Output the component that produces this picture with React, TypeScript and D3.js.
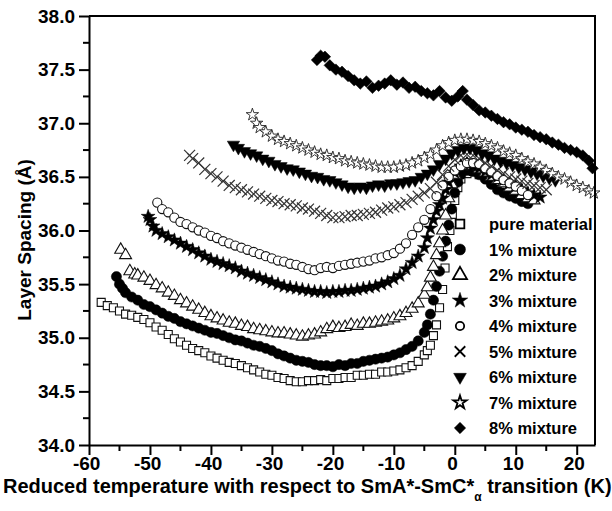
import { useRef, useEffect } from 'react';
import * as d3 from 'd3';

const W = 612;
const H = 511;
const MARGIN = { top: 16, right: 17, bottom: 66, left: 89 };

const xTicks = [-60, -50, -40, -30, -20, -10, 0, 10, 20];
const yTicks = [34.0, 34.5, 35.0, 35.5, 36.0, 36.5, 37.0, 37.5, 38.0];

// [reduced temperature (K), layer spacing (Å)]
const pure: [number, number][] = [
  [-58, 35.33], [-57, 35.3], [-56, 35.28], [-55, 35.25], [-54, 35.22], [-53, 35.21], [-52, 35.19], [-51, 35.17],
  [-50, 35.14], [-49, 35.1], [-48, 35.07], [-47, 35.03], [-46, 34.99], [-45, 34.96], [-44, 34.93], [-43, 34.9],
  [-42, 34.88], [-41, 34.86], [-40, 34.83], [-39, 34.81], [-38, 34.79], [-37, 34.77], [-36, 34.76], [-35, 34.74],
  [-34, 34.72], [-33, 34.7], [-32, 34.68], [-31, 34.66], [-30, 34.65], [-29, 34.63], [-28, 34.62], [-27, 34.6],
  [-26, 34.59], [-25, 34.59], [-24, 34.6], [-23, 34.6], [-22, 34.61], [-21, 34.6], [-20, 34.62], [-19, 34.62],
  [-18, 34.63], [-17, 34.63], [-16, 34.65], [-15, 34.65], [-14, 34.66], [-13, 34.66], [-12, 34.68], [-11, 34.68],
  [-10, 34.69], [-9, 34.7], [-8, 34.72], [-7, 34.74], [-6, 34.78], [-5, 34.84], [-4.5, 34.88], [-4, 34.93],
  [-3.5, 35.02], [-3, 35.12], [-2.5, 35.28], [-2, 35.45], [-1.6, 35.65], [-1.2, 35.85], [-0.8, 36.0], [-0.4, 36.15],
  [0, 36.28], [0.5, 36.4], [1, 36.48], [2, 36.53], [3, 36.55], [4, 36.52], [5, 36.5], [6, 36.46], [7, 36.43],
  [8, 36.4], [9, 36.37], [10, 36.34], [11, 36.31], [12, 36.28],
];

const mix1: [number, number][] = [
  [-55.5, 35.57], [-55, 35.5], [-54.5, 35.46], [-54, 35.42], [-53, 35.38], [-52, 35.35], [-51, 35.31], [-50, 35.29],
  [-49, 35.26], [-48, 35.23], [-47, 35.2], [-46, 35.18], [-45, 35.15], [-44, 35.13], [-43, 35.11], [-42, 35.09],
  [-41, 35.07], [-40, 35.05], [-39, 35.04], [-38, 35.02], [-37, 35.0], [-36, 34.98], [-35, 34.97], [-34, 34.95],
  [-33, 34.93], [-32, 34.92], [-31, 34.9], [-30, 34.88], [-29, 34.85], [-28, 34.83], [-27, 34.81], [-26, 34.79],
  [-25, 34.78], [-24, 34.77], [-23, 34.75], [-22, 34.74], [-21, 34.74], [-20, 34.73], [-19, 34.75], [-18, 34.74],
  [-17, 34.76], [-16, 34.76], [-15, 34.78], [-14, 34.79], [-13, 34.8], [-12, 34.81], [-11, 34.82], [-10, 34.84],
  [-9, 34.86], [-8, 34.89], [-7, 34.92], [-6, 34.97], [-5, 35.05], [-4.5, 35.12], [-4, 35.22], [-3.5, 35.35],
  [-3, 35.48], [-2.5, 35.62], [-2, 35.76], [-1.5, 35.9], [-1, 36.05], [-0.5, 36.2], [0, 36.35], [0.5, 36.45],
  [1, 36.52], [2, 36.56], [3, 36.55], [4, 36.52], [5, 36.48], [6, 36.43], [7, 36.38], [8, 36.35], [9, 36.32],
  [10, 36.3], [11, 36.27], [12, 36.25],
];

const mix2: [number, number][] = [
  [-54.8, 35.82], [-54, 35.77], [-53.3, 35.62], [-52.5, 35.59], [-52, 35.58], [-51, 35.56], [-50, 35.53], [-49, 35.49],
  [-48, 35.46], [-47, 35.42], [-46, 35.39], [-45, 35.35], [-44, 35.32], [-43, 35.29], [-42, 35.26], [-41, 35.23],
  [-40, 35.2], [-39, 35.18], [-38, 35.16], [-37, 35.14], [-36, 35.13], [-35, 35.11], [-34, 35.1], [-33, 35.08],
  [-32, 35.07], [-31, 35.06], [-30, 35.05], [-29, 35.04], [-28, 35.04], [-27, 35.03], [-26, 35.02], [-25, 35.01],
  [-24, 35.02], [-23, 35.03], [-22, 35.05], [-21, 35.08], [-20, 35.1], [-19, 35.09], [-18, 35.1], [-17, 35.12],
  [-16, 35.11], [-15, 35.13], [-14, 35.13], [-13, 35.14], [-12, 35.15], [-11, 35.16], [-10, 35.18], [-9, 35.2],
  [-8, 35.23], [-7, 35.27], [-6, 35.32], [-5, 35.4], [-4.5, 35.47], [-4, 35.56], [-3.5, 35.66], [-3, 35.77],
  [-2.5, 35.88], [-2, 36.0], [-1.5, 36.14], [-1, 36.3], [-0.5, 36.43], [0, 36.52], [1, 36.6], [2, 36.62],
  [3, 36.6], [4, 36.57], [5, 36.54], [6, 36.5], [7, 36.47], [8, 36.44], [9, 36.4], [10, 36.37], [11, 36.33],
  [12, 36.3], [13, 36.28],
];

const mix3: [number, number][] = [
  [-50.3, 36.13], [-50, 36.1], [-49.5, 36.04], [-49, 36.0], [-48, 35.97], [-47, 35.94], [-46, 35.91], [-45, 35.88],
  [-44, 35.85], [-43, 35.82], [-42, 35.79], [-41, 35.76], [-40, 35.73], [-39, 35.71], [-38, 35.69], [-37, 35.67],
  [-36, 35.65], [-35, 35.62], [-34, 35.6], [-33, 35.58], [-32, 35.56], [-31, 35.54], [-30, 35.52], [-29, 35.5],
  [-28, 35.48], [-27, 35.47], [-26, 35.46], [-25, 35.45], [-24, 35.44], [-23, 35.43], [-22, 35.43], [-21, 35.42],
  [-20, 35.43], [-19, 35.43], [-18, 35.44], [-17, 35.44], [-16, 35.45], [-15, 35.46], [-14, 35.47], [-13, 35.48],
  [-12, 35.5], [-11, 35.52], [-10, 35.55], [-9, 35.58], [-8, 35.64], [-7, 35.7], [-6, 35.76], [-5, 35.84],
  [-4.5, 35.93], [-4, 36.02], [-3.5, 36.1], [-3, 36.18], [-2.5, 36.24], [-2, 36.3], [-1.5, 36.38], [-1, 36.45],
  [0, 36.54], [1, 36.6], [2, 36.62], [3, 36.6], [4, 36.58], [5, 36.55], [6, 36.52], [7, 36.5], [8, 36.47],
  [9, 36.44], [10, 36.41], [11, 36.38], [12, 36.35], [13, 36.33], [14, 36.31],
];

const mix4: [number, number][] = [
  [-48.8, 36.26], [-48, 36.2], [-47, 36.17], [-46, 36.12], [-45, 36.08], [-44, 36.06], [-43, 36.03], [-42, 36.0],
  [-41, 35.98], [-40, 35.95], [-39, 35.93], [-38, 35.9], [-37, 35.88], [-36, 35.86], [-35, 35.84], [-34, 35.82],
  [-33, 35.8], [-32, 35.78], [-31, 35.76], [-30, 35.74], [-29, 35.72], [-28, 35.71], [-27, 35.69], [-26, 35.68],
  [-25, 35.66], [-24, 35.64], [-23, 35.63], [-22, 35.65], [-21, 35.66], [-20, 35.65], [-19, 35.67], [-18, 35.68],
  [-17, 35.69], [-16, 35.7], [-15, 35.71], [-14, 35.72], [-13, 35.74], [-12, 35.75], [-11, 35.77], [-10, 35.79],
  [-9, 35.83], [-8, 35.88], [-7, 35.96], [-6, 36.03], [-5, 36.1], [-4, 36.2], [-3, 36.32], [-2, 36.42],
  [-1, 36.5], [0, 36.56], [1, 36.6], [2, 36.63], [3, 36.63], [4, 36.62], [5, 36.58], [6, 36.55], [7, 36.51],
  [8, 36.47], [9, 36.44], [10, 36.41], [11, 36.37], [12, 36.33],
];

const mix5: [number, number][] = [
  [-43.5, 36.7], [-43, 36.67], [-42, 36.63], [-41, 36.57], [-40, 36.53], [-39, 36.5], [-38, 36.46], [-37, 36.42],
  [-36, 36.4], [-35, 36.38], [-34, 36.36], [-33, 36.34], [-32, 36.32], [-31, 36.3], [-30, 36.28], [-29, 36.27],
  [-28, 36.25], [-27, 36.24], [-26, 36.23], [-25, 36.21], [-24, 36.2], [-23, 36.18], [-22, 36.16], [-21, 36.14],
  [-20, 36.12], [-19, 36.12], [-18, 36.13], [-17, 36.14], [-16, 36.14], [-15, 36.15], [-14, 36.16], [-13, 36.17],
  [-12, 36.19], [-11, 36.21], [-10, 36.22], [-9, 36.24], [-8, 36.26], [-7, 36.29], [-6, 36.32], [-5, 36.35],
  [-4, 36.39], [-3, 36.45], [-2, 36.52], [-1, 36.6], [0, 36.66], [1, 36.7], [2, 36.71], [3, 36.7], [4, 36.67],
  [5, 36.63], [6, 36.6], [7, 36.56], [8, 36.53], [9, 36.5], [10, 36.48], [11, 36.46], [12, 36.44], [13, 36.42],
  [14, 36.4], [15, 36.38],
];

const mix6: [number, number][] = [
  [-36.3, 36.8], [-35.5, 36.77], [-34.5, 36.74], [-33.5, 36.72], [-32.5, 36.7], [-31.5, 36.67], [-30.5, 36.65],
  [-29.5, 36.62], [-28.5, 36.6], [-27.5, 36.58], [-26.5, 36.57], [-25.5, 36.55], [-24.5, 36.53], [-23.5, 36.51],
  [-22.5, 36.5], [-21.5, 36.48], [-20.5, 36.47], [-19.5, 36.45], [-18.5, 36.43], [-17.5, 36.41], [-16.5, 36.4],
  [-15.5, 36.41], [-14.5, 36.4], [-13.5, 36.42], [-12.5, 36.43], [-11.5, 36.42], [-10.5, 36.44], [-9.5, 36.44],
  [-8.5, 36.45], [-7.5, 36.46], [-6.5, 36.47], [-5.5, 36.5], [-4.5, 36.53], [-3.5, 36.57], [-2.5, 36.62],
  [-1.5, 36.67], [-0.5, 36.72], [0.5, 36.75], [1.5, 36.77], [2.5, 36.77], [3.5, 36.75], [4.5, 36.72], [5.5, 36.7],
  [6.5, 36.67], [7.5, 36.65], [8.5, 36.63], [9.5, 36.61], [10.5, 36.59], [11.5, 36.57], [12.5, 36.55],
  [13.5, 36.53], [14.5, 36.51], [15.5, 36.49], [16.5, 36.47],
];

const mix7: [number, number][] = [
  [-33.2, 37.08], [-32.5, 37.0], [-32, 36.96], [-31, 36.92], [-30, 36.88], [-29, 36.85], [-28, 36.83], [-27, 36.81],
  [-26, 36.79], [-25, 36.77], [-24, 36.75], [-23, 36.73], [-22, 36.71], [-21, 36.7], [-20, 36.68], [-19, 36.67],
  [-18, 36.65], [-17, 36.64], [-16, 36.63], [-15, 36.62], [-14, 36.61], [-13, 36.6], [-12, 36.59], [-11, 36.59],
  [-10, 36.59], [-9, 36.6], [-8, 36.61], [-7, 36.63], [-6, 36.65], [-5, 36.68], [-4, 36.71], [-3, 36.75],
  [-2, 36.79], [-1, 36.82], [0, 36.84], [1, 36.85], [2, 36.85], [3, 36.84], [4, 36.83], [5, 36.81], [6, 36.79],
  [7, 36.77], [8, 36.74], [9, 36.72], [10, 36.7], [11, 36.67], [12, 36.64], [13, 36.62], [14, 36.59], [15, 36.56],
  [16, 36.53], [17, 36.5], [18, 36.48], [19, 36.45], [20, 36.42], [21, 36.4], [22, 36.37], [22.8, 36.35],
];

const mix8: [number, number][] = [
  [-22.6, 37.59], [-22, 37.63], [-21.3, 37.62], [-20.5, 37.54], [-19.5, 37.5], [-18.5, 37.48], [-17.5, 37.44],
  [-16.5, 37.4], [-15.5, 37.37], [-14.5, 37.39], [-13.5, 37.33], [-12.5, 37.35], [-11.5, 37.37], [-10.5, 37.4],
  [-9.5, 37.36], [-8.5, 37.38], [-7.5, 37.33], [-6.5, 37.34], [-5.5, 37.3], [-4.5, 37.28], [-3.5, 37.26],
  [-2.5, 37.3], [-1.5, 37.24], [-0.5, 37.21], [0.5, 37.25], [1.3, 37.3], [2, 37.22], [3, 37.17], [4, 37.12],
  [5, 37.1], [6, 37.07], [7, 37.04], [8, 37.01], [9, 36.99], [10, 36.96], [11, 36.94], [12, 36.92], [13, 36.89],
  [14, 36.87], [15, 36.85], [16, 36.82], [17, 36.8], [18, 36.77], [19, 36.75], [20, 36.73], [21, 36.7],
  [22, 36.65], [22.6, 36.58],
];

const legendLabels = [
  'pure material', '1% mixture', '2% mixture', '3% mixture', '4% mixture',
  '5% mixture', '6% mixture', '7% mixture', '8% mixture',
];

// x-shaped marker drawn with strokes
const symbolTimesMark = {
  draw(ctx: any, size: number) {
    const r = Math.sqrt(size) / 2;
    ctx.moveTo(-r, -r); ctx.lineTo(r, r);
    ctx.moveTo(r, -r); ctx.lineTo(-r, r);
  },
};

const SERIES = [
  { data: pure, type: d3.symbolSquare, size: 64, lsize: 75, fill: '#fff', stroke: '#111', sw: 1.1, rot: 0 },
  { data: mix1, type: d3.symbolCircle, size: 82, lsize: 95, fill: '#000', stroke: '#000', sw: 0.5, rot: 0 },
  { data: mix2, type: d3.symbolTriangle, size: 62, lsize: 85, fill: '#fff', stroke: '#111', sw: 1.1, rot: 0 },
  { data: mix3, type: d3.symbolStar, size: 60, lsize: 75, fill: '#000', stroke: '#000', sw: 0.5, rot: 0 },
  { data: mix4, type: d3.symbolCircle, size: 66, lsize: 55, fill: '#fff', stroke: '#111', sw: 1.1, rot: 0 },
  { data: mix5, type: symbolTimesMark, size: 120, lsize: 110, fill: 'none', stroke: '#333', sw: 1.2, rot: 0 },
  { data: mix6, type: d3.symbolTriangle, size: 66, lsize: 70, fill: '#000', stroke: '#000', sw: 0.5, rot: 180 },
  { data: mix7, type: d3.symbolStar, size: 48, lsize: 55, fill: '#fff', stroke: '#222', sw: 0.9, rot: 0 },
  { data: mix8, type: d3.symbolSquare, size: 66, lsize: 64, fill: '#000', stroke: '#000', sw: 0.5, rot: 45 },
];

const FONT = 'Arial, "Liberation Sans", Helvetica, sans-serif';

export default function App() {
  const svgRef = useRef<SVGSVGElement>(null);

  useEffect(() => {
    const svg = d3.select(svgRef.current);
    svg.selectAll('*').remove();

    const x0 = MARGIN.left, x1 = W - MARGIN.right;
    const y0 = MARGIN.top, y1 = H - MARGIN.bottom;

    const x = d3.scaleLinear().domain([-60, 23]).range([x0, x1]);
    const y = d3.scaleLinear().domain([34, 38]).range([y1, y0]);

    svg.append('rect').attr('width', W).attr('height', H).attr('fill', '#fff');

    // Data points
    SERIES.forEach(s => {
      const sym = d3.symbol().type(s.type as any).size(s.size);
      svg.append('g').selectAll('path').data(s.data).enter()
        .append('path')
        .attr('d', sym() as string)
        .attr('transform', d => `translate(${x(d[0])},${y(d[1])}) rotate(${s.rot})`)
        .attr('fill', s.fill)
        .attr('stroke', s.stroke)
        .attr('stroke-width', s.sw);
    });

    // Frame (top and right)
    svg.append('path')
      .attr('d', `M${x0},${y0}H${x1}V${y1}`)
      .attr('fill', 'none').attr('stroke', '#000').attr('stroke-width', 2);

    // Minor ticks
    const xMinor = d3.range(-55, 23, 10);
    const yMinor = d3.range(34.25, 38, 0.5);
    svg.append('g').selectAll('line').data(xMinor).enter().append('line')
      .attr('x1', d => x(d)).attr('x2', d => x(d))
      .attr('y1', y1).attr('y2', y1 + 6)
      .attr('stroke', '#000').attr('stroke-width', 2);
    svg.append('g').selectAll('line').data(yMinor).enter().append('line')
      .attr('y1', d => y(d)).attr('y2', d => y(d))
      .attr('x1', x0).attr('x2', x0 - 6)
      .attr('stroke', '#000').attr('stroke-width', 2);

    // Axes
    const gx = svg.append('g').attr('transform', `translate(0,${y1})`)
      .call(d3.axisBottom(x).tickValues(xTicks).tickSize(10).tickPadding(2).tickSizeOuter(0)
        .tickFormat(d => String(d)));
    const gy = svg.append('g').attr('transform', `translate(${x0},0)`)
      .call(d3.axisLeft(y).tickValues(yTicks).tickSize(10).tickPadding(4).tickSizeOuter(0)
        .tickFormat(d => (d as number).toFixed(1)));
    [gx, gy].forEach(g => {
      g.select('.domain').attr('stroke', '#000').attr('stroke-width', 2);
      g.selectAll('.tick line').attr('stroke', '#000').attr('stroke-width', 2);
      g.selectAll('.tick text')
        .attr('fill', '#000')
        .attr('font-family', FONT)
        .attr('font-weight', 'bold')
        .attr('font-size', 19);
    });
    gx.selectAll('.tick text').attr('text-anchor', 'middle').attr('dx', '-0.15em');

    // Axis titles
    const xt = svg.append('text')
      .attr('x', 3).attr('y', 493)
      .attr('font-family', FONT).attr('font-weight', 'bold').attr('font-size', 20)
      .attr('fill', '#000');
    xt.append('tspan').text('Reduced temperature with respect to SmA*-SmC*');
    xt.append('tspan').attr('font-size', 12).attr('dy', 8).attr('dx', 0).text('α');
    xt.append('tspan').attr('dy', -8).text(' transition (K)');

    svg.append('text')
      .attr('transform', `translate(31,240) rotate(-90)`)
      .attr('text-anchor', 'middle')
      .attr('font-family', FONT).attr('font-weight', 'bold').attr('font-size', 19)
      .attr('fill', '#000')
      .text('Layer Spacing (Å)');

    // Legend
    const lg = svg.append('g');
    SERIES.forEach((s, i) => {
      const ly = 224 + i * 25.5;
      const sym = d3.symbol().type(s.type as any).size(s.lsize);
      lg.append('path')
        .attr('d', sym() as string)
        .attr('transform', `translate(460,${ly}) rotate(${s.rot})`)
        .attr('fill', s.fill)
        .attr('stroke', '#000')
        .attr('stroke-width', s.fill === '#000' ? 0.5 : 1.8);
      lg.append('text')
        .attr('x', 489).attr('y', ly + 6)
        .attr('font-family', FONT).attr('font-weight', 'bold').attr('font-size', 16.5)
        .attr('fill', '#000')
        .text(legendLabels[i]);
    });
  }, []);

  return (
    <svg ref={svgRef} width={W} height={H}
      style={{ position: 'absolute', left: 0, top: 0, display: 'block' }} />
  );
}
